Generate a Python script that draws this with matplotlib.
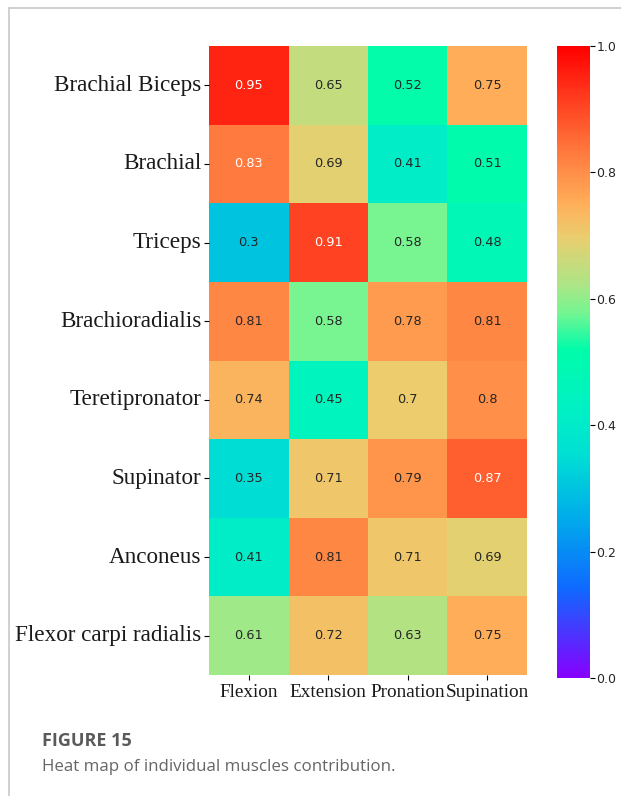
import numpy as np
import matplotlib
matplotlib.use("Agg")
import matplotlib.pyplot as plt
from matplotlib.colors import LinearSegmentedColormap
from matplotlib.lines import Line2D
import seaborn as sns

muscles = ["Brachial Biceps", "Brachial", "Triceps", "Brachioradialis",
           "Teretipronator", "Supinator", "Anconeus", "Flexor carpi radialis"]
movements = ["Flexion", "Extension", "Pronation", "Supination"]
flexion = [0.95, 0.83, 0.30, 0.81, 0.74, 0.35, 0.41, 0.61]
extension = [0.65, 0.69, 0.91, 0.58, 0.45, 0.71, 0.81, 0.72]
pronation = [0.52, 0.41, 0.58, 0.78, 0.70, 0.79, 0.71, 0.63]
supination = [0.75, 0.51, 0.48, 0.81, 0.80, 0.87, 0.69, 0.75]
cbar_ticks = [0.0, 0.2, 0.4, 0.6, 0.8, 1.0]

data = np.array([flexion, extension, pronation, supination]).T

anchors = [
    (0.00, (135, 0, 255)),
    (0.14, (15, 105, 255)),
    (0.25, (0, 170, 235)),
    (0.35, (0, 222, 212)),
    (0.42, (0, 240, 198)),
    (0.52, (0, 252, 170)),
    (0.58, (120, 245, 145)),
    (0.62, (170, 230, 135)),
    (0.70, (235, 205, 110)),
    (0.75, (255, 175, 90)),
    (0.85, (255, 110, 55)),
    (1.00, (255, 0, 0)),
]
cmap = LinearSegmentedColormap.from_list(
    "custom", [(p, tuple(c / 255 for c in rgb)) for p, rgb in anchors])

fig = plt.figure(figsize=(6.21, 7.96), dpi=100)
ax = fig.add_axes([0.3366, 0.152, 0.512, 0.7902])
cax = fig.add_axes([0.897, 0.148, 0.053, 0.7942])

sns.heatmap(data, ax=ax, cbar_ax=cax, cmap=cmap, vmin=0, vmax=1,
            annot=True, fmt="g", annot_kws={"fontsize": 9.3, "family": "DejaVu Sans"},
            xticklabels=movements, yticklabels=muscles)

for t in ax.texts:
    v = float(t.get_text())
    t.set_color("white" if v >= 0.83 else "#262626")

ax.tick_params(axis="y", length=3.5, width=0.8, pad=2, rotation=0)
ax.tick_params(axis="x", length=3.5, width=0.8, pad=3, rotation=0)
for lab in ax.get_yticklabels():
    lab.set_fontfamily("Liberation Serif")
    lab.set_fontsize(16.7)
    lab.set_color("#1a1a1a")
for lab in ax.get_xticklabels():
    lab.set_fontfamily("Liberation Serif")
    lab.set_fontsize(13.9)
    lab.set_color("#1a1a1a")

cax.set_yticks(cbar_ticks)
cax.set_yticklabels([f"{t:.1f}" for t in cbar_ticks])
cax.tick_params(axis="y", length=3.5, width=0.8, labelsize=9, labelcolor="#262626", pad=1)

# card border
fig.add_artist(Line2D([9 / 621, 1], [1 - 8 / 796, 1 - 8 / 796], color="#c8c8c8", lw=1.2))
fig.add_artist(Line2D([9 / 621, 9 / 621], [0, 1 - 8 / 796], color="#c8c8c8", lw=1.2))

fig.text(42 / 621, 1 - 741 / 796, "FIGURE 15", family="Open Sans", weight="bold",
         fontsize=13, color="#5a5a5a", va="center", ha="left")
fig.text(42 / 621, 1 - 767 / 796, "Heat map of individual muscles contribution.",
         family="Open Sans", fontsize=12.2, color="#666666", va="center", ha="left")

fig.savefig("out.png", dpi=100)
